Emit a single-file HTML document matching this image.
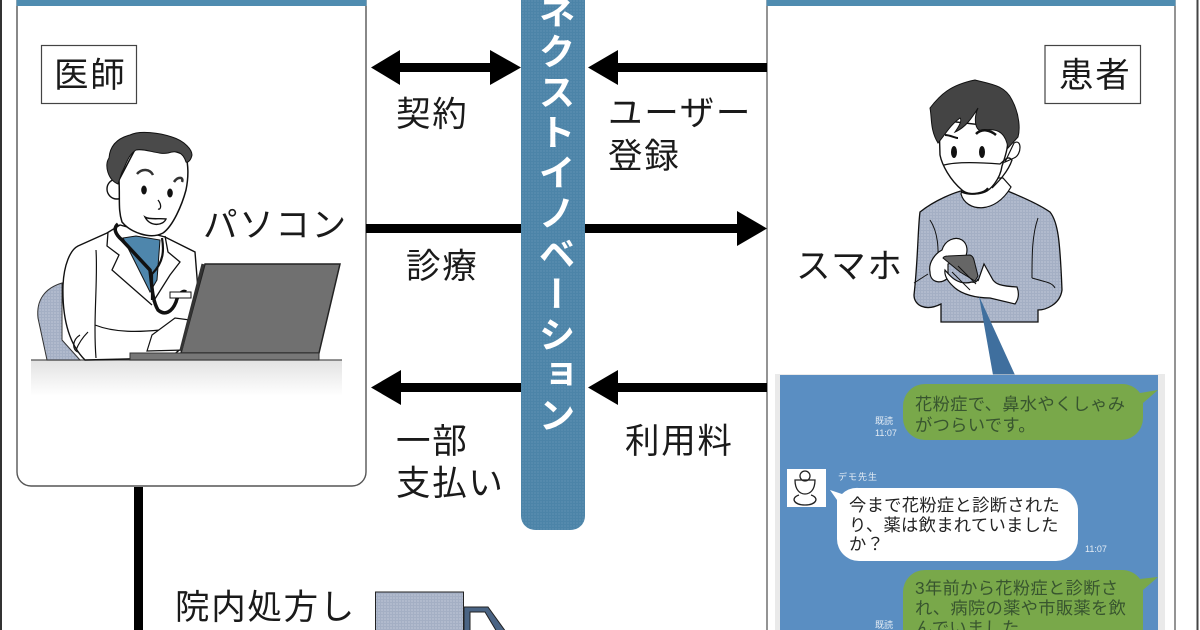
<!DOCTYPE html>
<html lang="ja"><head><meta charset="utf-8"><title>図</title>
<style>
html,body{margin:0;padding:0;background:#fff;width:1200px;height:630px;overflow:hidden}
svg{display:block}
text{font-family:"Liberation Sans","Noto Sans CJK JP",sans-serif;fill:#1a1a1a}
.l{font-size:34.500px;letter-spacing:1.700px}
.c{font-size:17.300px;letter-spacing:.3px}
.g{fill:#38552f}
.s{font-size:9px;fill:#e4ecf4}
#bar{position:absolute;left:521px;top:-8px;width:64px;height:460px;writing-mode:vertical-rl;font:700 37px/64px "Liberation Sans","Noto Sans CJK JP",sans-serif;letter-spacing:3.400px;color:#fff;text-align:left;white-space:nowrap}
</style></head>
<body>
<svg width="1200" height="630" viewBox="0 0 1200 630" xmlns="http://www.w3.org/2000/svg">
<defs>
<pattern id="sw" width="3" height="3" patternUnits="userSpaceOnUse"><rect width="3" height="3" fill="#a4afc4"/><circle cx="1" cy="1" r=".55" fill="#e3e7ef"/></pattern>
<pattern id="bl" width="3" height="3" patternUnits="userSpaceOnUse"><rect width="3" height="3" fill="#4c84a8"/><circle cx="1" cy="1" r=".5" fill="#7ba6c2"/></pattern>
<linearGradient id="desk" x1="0" y1="0" x2="0" y2="1"><stop offset="0" stop-color="#e2e2e2"/><stop offset="1" stop-color="#fff"/></linearGradient>
</defs>
<rect width="1200" height="630" fill="#fff"/>
<!-- outer frame -->
<rect x="0" y="0" width="2" height="630" fill="#333"/>
<rect x="1196.500" y="0" width="2" height="630" fill="#444"/>
<!-- panels -->
<path d="M17 0V472a14 14 0 0 0 14 14H352a14 14 0 0 0 14-14V0" fill="#fff" stroke="#555" stroke-width="1.4"/>
<path d="M767 0V630M1175 0V630" fill="none" stroke="#666" stroke-width="1.4"/>
<rect x="16.500" y="0" width="350" height="6" fill="#4f8cb0"/>
<rect x="766.500" y="0" width="409" height="6" fill="#4f8cb0"/>
<!-- label boxes -->
<rect x="41.500" y="45.500" width="95" height="58" fill="#fff" stroke="#444" stroke-width="1.2"/>
<rect x="1045" y="45.500" width="95.500" height="58" fill="#fff" stroke="#444" stroke-width="1.2"/>
<text class="l" x="54" y="87">医師</text>
<text class="l" x="1059" y="87">患者</text>
<!-- arrows -->
<g fill="#000">
<rect x="400" y="63" width="95" height="9"/>
<path d="M371 67.500L400 50V85Z"/><path d="M521 67.500L490 50V85Z"/>
<rect x="615" y="63" width="152" height="9"/>
<path d="M588 67.500L618 50V85Z"/>
<rect x="366" y="224" width="156" height="9"/>
<rect x="584" y="224" width="158" height="9"/>
<path d="M767 228.500L737 211V246Z"/>
<rect x="398" y="383" width="124" height="9"/>
<path d="M371 387.500L401 370V405Z"/>
<rect x="615" y="383" width="152" height="9"/>
<path d="M588 387.500L618 370V405Z"/>
<rect x="134" y="487" width="9" height="143"/>
</g>
<!-- middle bar -->
<path d="M521 0V516a14 14 0 0 0 14 14h36a14 14 0 0 0 14-14V0Z" fill="url(#bl)"/>
<!-- labels -->
<text class="l" x="396" y="126">契約</text>
<text class="l" x="608" y="125">ユーザー</text>
<text class="l" x="608" y="168">登録</text>
<text class="l" x="203" y="237">パソコン</text>
<text class="l" x="406" y="278">診療</text>
<text class="l" x="796" y="278">スマホ</text>
<text class="l" x="396" y="453">一部</text>
<text class="l" x="396" y="495">支払い</text>
<text class="l" x="625" y="453">利用料</text>
<text class="l" x="175" y="619">院内処方し</text>
<!-- desk -->
<rect x="31" y="360" width="311" height="36" fill="url(#desk)"/>
<path d="M31 360H342" stroke="#555" stroke-width="1.2"/>
<!-- chair -->
<path d="M62 283C45 288 36 300 38 318L47 360H80L62 340Z" fill="url(#sw)" stroke="#333"/>
<!-- doctor body -->
<path d="M78 246L107 233L120 225L165 237L195 252L198 290L185 345L170 358L85 360C70 345 62 320 63 285C64 265 70 250 78 246Z" fill="#fff" stroke="#111" stroke-width="1.4"/>
<path d="M123 238L136 236L160 240L157 280L150 292Z" fill="#4e86ac" stroke="#111"/>
<path d="M108 232L107 246L119 255L112 270L152 305M165 236L168 252L180 262L170 275L153 302" fill="none" stroke="#111" stroke-width="1.3"/>
<path d="M96 250C98 280 93 320 96 358M95 325C115 333 140 332 160 330M80 335C72 340 72 350 78 352M88 332C82 338 78 345 76 350" fill="none" stroke="#111" stroke-width="1.2"/>
<path d="M147 351L152 335L175 318L190 320L185 350Z" fill="#fff" stroke="#111" stroke-width="1.2"/>
<!-- stethoscope -->
<path d="M118 224C113 228 115 234 122 240L150 270C152 285 152 300 158 310C165 316 172 312 176 302C178 294 183 290 186 292" fill="none" stroke="#111" stroke-width="3.500"/>
<path d="M162 238C164 250 164 262 152 274L152 300" fill="none" stroke="#111" stroke-width="2.2"/>
<rect x="170" y="292" width="21" height="6" fill="#fff" stroke="#111"/>
<!-- doctor head -->
<circle cx="117" cy="189" r="10" fill="#fff" stroke="#111" stroke-width="1.4"/>
<path d="M119 180C120 200 118 210 122 222C130 232 150 240 163 233C173 226 182 205 186 190C189 175 188 165 186 155L140 140Z" fill="#fff" stroke="#111" stroke-width="1.5"/>
<path d="M118 184C108 180 104 165 109 158C110 145 118 138 130 135C140 130 160 133 172 137C185 141 192 150 192 155C191 160 188 163 186 162C183 152 176 150 168 153C158 155 145 148 136 150C128 155 126 165 122 172Z" fill="#4a4a4a" stroke="#111"/>
<path d="M137 174C142 168 150 169 153 175M174 182C178 176 184 177 182 182" fill="none" stroke="#333" stroke-width="2.500"/>
<ellipse cx="144" cy="190" rx="2.800" ry="4.500" fill="#111"/><ellipse cx="170" cy="193" rx="2.800" ry="4.500" fill="#111"/>
<path d="M158 200C162 205 161 210 158 209" fill="none" stroke="#111" stroke-width="1.3"/>
<path d="M145 217C150 220 160 218 166 219C163 226 150 227 145 217Z" fill="#fff" stroke="#111" stroke-width="1.4"/>
<!-- laptop -->
<path d="M205 264H340L319 353H181Z" fill="#707070" stroke="#222" stroke-width="1.500"/>
<path d="M203 264L181 350" stroke="#333" stroke-width="3"/>
<rect x="130" y="353" width="189" height="7" fill="#777" stroke="#333"/>
<!-- patient -->
<path d="M920 212C935 200 955 192 965 190H1005C1020 196 1040 205 1050 212C1058 222 1060 240 1062 290C1060 305 1045 310 1038 310V322H941V304C925 312 914 305 914 295C918 260 918 225 920 212Z" fill="url(#sw)" stroke="#111" stroke-width="1.3"/>
<path d="M961 194C966 212 995 215 1011 187L1003 178H965Z" fill="#fff" stroke="#111" stroke-width="1.2"/>
<path d="M930 220C940 235 938 255 938 270M1038 218C1032 235 1032 255 1032 278M1032 278C1045 282 1052 282 1055 288M914 283L928 274" fill="none" stroke="#111"/>
<!-- mask+face -->
<path d="M1014 143C1022 138 1022 155 1014 158L1005 162Z" fill="#fff" stroke="#111" stroke-width="1.2"/>
<path d="M939 120L1008 128C1010 145 1004 160 1002 166C1000 180 990 190 985 192C975 196 965 193 962 190C950 180 942 165 940 155Z" fill="#fff" stroke="#111" stroke-width="1.4"/>
<path d="M944 165C955 162 975 162 1000 164C1005 160 1008 155 1012 160C1008 172 998 182 992 188" fill="none" stroke="#111" stroke-width="1.300"/>
<path d="M962 192C972 196 985 193 988 188" fill="none" stroke="#111" stroke-width="2"/>
<path d="M938 143C930 130 932 118 930 108C940 95 950 85 975 80C990 84 1005 85 1012 100C1020 115 1020 130 1018 137L1008 148C1006 135 1000 128 985 130C975 135 973 118 978 108C972 118 965 128 955 132C960 125 962 120 960 118C950 125 945 135 938 143Z" fill="#444" stroke="#111"/>
<path d="M976 134C982 128 990 130 996 135" fill="none" stroke="#111" stroke-width="2.500"/>
<path d="M945 135C950 135 955 138 958 138" fill="none" stroke="#111" stroke-width="2"/>
<ellipse cx="954" cy="152" rx="3" ry="6" fill="#111"/><ellipse cx="982" cy="152" rx="3" ry="6" fill="#111"/>
<!-- hands & phone -->
<path d="M930 272C928 262 936 253 942 250C945 240 955 236 962 240C968 244 968 252 965 258L948 264L948 278C940 285 930 282 930 272Z" fill="#fff" stroke="#111" stroke-width="1.2"/>
<path d="M943 258Q944 256 948 256L970 255Q973 256 974 260L978 276L975 281L960 272Z" fill="#666" stroke="#111"/>
<path d="M945 270C950 276 958 286 972 282C978 284 978 276 978 281L984 264L993 280C996 284 1000 286 1017 287C1020 295 1018 300 1015 304L990 298C975 298 962 294 955 288C948 282 944 276 945 270Z" fill="#fff" stroke="#111" stroke-width="1.2"/>
<path d="M952 272L970 290M958 266L976 284" stroke="#111" fill="none"/>
<!-- connector wedge -->
<path d="M979 296L1015 375H993Z" fill="#3f6f9e"/>
<!-- chat -->
<rect x="775" y="374" width="390" height="256" fill="#dcdcdc" opacity=".6"/>
<rect x="780" y="375" width="378" height="255" fill="#5a8ec2"/>
<path d="M925 384H1121a22 22 0 0 1 19 9L1158 390L1143 403V418a22 22 0 0 1-22 22H925a22 22 0 0 1-22-22V406a22 22 0 0 1 22-22Z" fill="#79a84a"/>
<text class="c g" x="915" y="410">花粉症で、鼻水やくしゃみ</text>
<text class="c g" x="915" y="431">がつらいです。</text>
<text class="s" x="875" y="424">既読</text><text class="s" x="875" y="436">11:07</text>
<rect x="787" y="469" width="39" height="38" fill="#fff"/>
<circle cx="805" cy="476" r="5" fill="none" stroke="#222" stroke-width="1.300"/>
<path d="M795 480H815C815 490 810 494 805 494C800 494 795 490 795 480ZM799 495C790 498 794 505 805 505C816 505 820 498 811 495" fill="none" stroke="#222" stroke-width="1.300"/>
<text class="s" x="838" y="480" style="letter-spacing:1px">デモ先生</text>
<path d="M859 488H1056a22 22 0 0 1 22 22V539a22 22 0 0 1-22 22H859a22 22 0 0 1-22-22V500L830 490L842 494a22 22 0 0 1 17-6Z" fill="#fff"/>
<text class="c" x="849" y="511" style="fill:#222">今まで花粉症と診断された</text>
<text class="c" x="849" y="531" style="fill:#222">り、薬は飲まれていました</text>
<text class="c" x="849" y="550" style="fill:#222">か？</text>
<text class="s" x="1085" y="552">11:07</text>
<path d="M925 570H1121a22 22 0 0 1 19 9L1158 577L1143 590V640H903V592a22 22 0 0 1 22-22Z" fill="#79a84a"/>
<text class="c g" x="915" y="594">3年前から花粉症と診断さ</text>
<text class="c g" x="915" y="614">れ、病院の薬や市販薬を飲</text>
<text class="c g" x="915" y="634">んでいました。</text>
<text class="s" x="875" y="628">既読</text>
<!-- truck -->
<rect x="375.500" y="592" width="88" height="40" fill="url(#sw)" stroke="#222" stroke-width="1"/>
<path d="M464 607H488L506 632H464Z" fill="#4a6484" stroke="#222"/>
<path d="M470 612H485L497 632H470Z" fill="#fff" stroke="#222"/>
</svg>
<div id="bar">ネクストイノベーション</div>
</body></html>
